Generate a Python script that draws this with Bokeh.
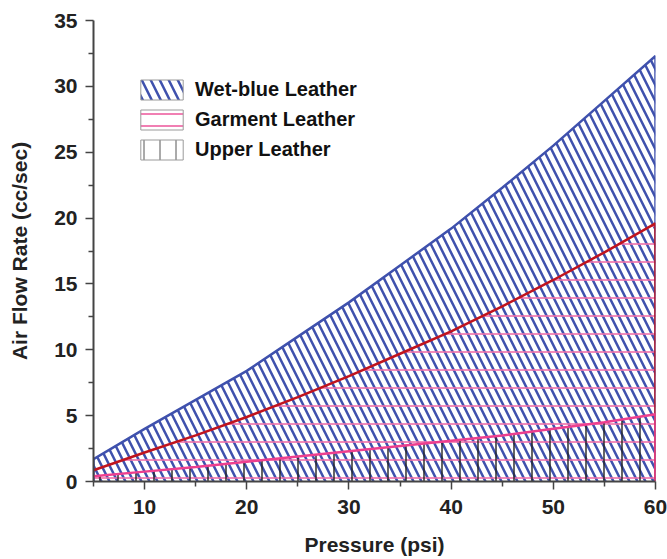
from bokeh.plotting import figure
from bokeh.models import Range1d, FixedTicker, Legend, LegendItem
from bokeh.embed import file_html
from bokeh.resources import INLINE

# ---- data ----
pressure = [5, 10, 15, 20, 25, 30, 35, 40, 45, 50, 55, 60]
wet_blue = [1.7, 4.0, 6.2, 8.4, 11.0, 13.6, 16.4, 19.2, 22.3, 25.5, 28.9, 32.3]
garment = [0.85, 2.2, 3.5, 4.9, 6.4, 8.0, 9.7, 11.4, 13.3, 15.3, 17.4, 19.6]
upper = [0.4, 0.75, 1.1, 1.5, 1.9, 2.3, 2.7, 3.1, 3.5, 4.0, 4.5, 5.1]
series_names = ["Wet-blue Leather", "Garment Leather", "Upper Leather"]
x_ticks = [10, 20, 30, 40, 50, 60]
x_minor = [5, 15, 25, 35, 45, 55]
y_ticks = [0, 5, 10, 15, 20, 25, 30, 35]
y_minor = [2.5, 7.5, 12.5, 17.5, 22.5, 27.5, 32.5]

BLUE = "#3f51ad"
RED = "#c0141e"
PINK = "#ee3f8f"
PINK_HATCH = "#f070aa"
BLACK_HATCH = "#222222"
FONT = "Liberation Sans"
NAN = float("nan")

p = figure(width=667, height=559, x_range=Range1d(5, 60), y_range=Range1d(0, 35),
           output_backend="svg", toolbar_location=None,
           min_border_left=93, min_border_right=12, min_border_top=20, min_border_bottom=78)
p.grid.visible = False
p.outline_line_color = None
p.background_fill_color = "white"

x0, x1 = pressure[0], pressure[-1]

# hatched areas
p.varea(x=pressure, y1=0, y2=wet_blue, fill_color=None, fill_alpha=0,
        hatch_pattern="\\", hatch_color=BLUE, hatch_scale=16, hatch_weight=2.5)
p.varea(x=pressure, y1=0, y2=garment, fill_color=None, fill_alpha=0,
        hatch_pattern="-", hatch_color=PINK_HATCH, hatch_scale=18, hatch_weight=1.6)
p.varea(x=pressure, y1=0, y2=upper, fill_color=None, fill_alpha=0,
        hatch_pattern="|", hatch_color=BLACK_HATCH, hatch_scale=18, hatch_weight=1.4)

# outlines
p.line(x=[x0] + pressure + [x1], y=[0] + wet_blue + [0], line_color=BLUE, line_width=2.5)
p.line(x=pressure + [x1], y=garment + [0], line_color=RED, line_width=2.5)
p.line(x=pressure + [x1], y=upper + [0], line_color=PINK, line_width=2.5)

# legend proxies (not drawn in the plot area: NaN geometry)
r_wb = p.patch(x=[NAN], y=[NAN], fill_color=None, fill_alpha=0, line_color="#9a9a9a", line_width=1,
               hatch_pattern="\\", hatch_color=BLUE, hatch_scale=18, hatch_weight=2.5)
r_gm = p.patch(x=[NAN], y=[NAN], fill_color=None, fill_alpha=0, line_color="#9a9a9a", line_width=1,
               hatch_pattern="-", hatch_color=PINK_HATCH, hatch_scale=12, hatch_weight=1.8)
r_up = p.patch(x=[NAN], y=[NAN], fill_color=None, fill_alpha=0, line_color="#9a9a9a", line_width=1,
               hatch_pattern="|", hatch_color="#555555", hatch_scale=16, hatch_weight=1)

legend = Legend(items=[LegendItem(label=series_names[0], renderers=[r_wb]),
                       LegendItem(label=series_names[1], renderers=[r_gm]),
                       LegendItem(label=series_names[2], renderers=[r_up])],
                location=(42, 319), glyph_width=53, glyph_height=25, spacing=5,
                padding=0, margin=0, label_standoff=7, border_line_color=None,
                background_fill_alpha=0, label_text_font_size="20px",
                label_text_font_style="bold", label_text_font=FONT, label_text_color="#111111")
p.add_layout(legend)

# axes
p.xaxis.ticker = FixedTicker(ticks=x_ticks, minor_ticks=x_minor)
p.yaxis.ticker = FixedTicker(ticks=y_ticks, minor_ticks=y_minor)
p.xaxis.axis_label = "Pressure (psi)"
p.yaxis.axis_label = "Air Flow Rate (cc/sec)"
for ax in (p.xaxis, p.yaxis):
    ax.axis_line_color = "#444444"
    ax.axis_line_width = 2
    ax.major_tick_line_color = "#444444"
    ax.minor_tick_line_color = "#444444"
    ax.major_tick_line_width = 1.5
    ax.minor_tick_line_width = 1.5
    ax.major_tick_out = 8
    ax.major_tick_in = 0
    ax.minor_tick_out = 5
    ax.minor_tick_in = 0
    ax.major_label_text_font = FONT
    ax.major_label_text_font_style = "bold"
    ax.major_label_text_font_size = "21px"
    ax.major_label_text_color = "#222222"
    ax.axis_label_text_font = FONT
    ax.axis_label_text_font_style = "bold"
    ax.axis_label_text_font_size = "21px"
    ax.axis_label_text_color = "#222222"
p.xaxis.major_label_standoff = 10
p.yaxis.major_label_standoff = 8
p.xaxis.axis_label_standoff = 16
p.yaxis.axis_label_standoff = 20

open("out.html", "w").write(file_html(p, INLINE))
